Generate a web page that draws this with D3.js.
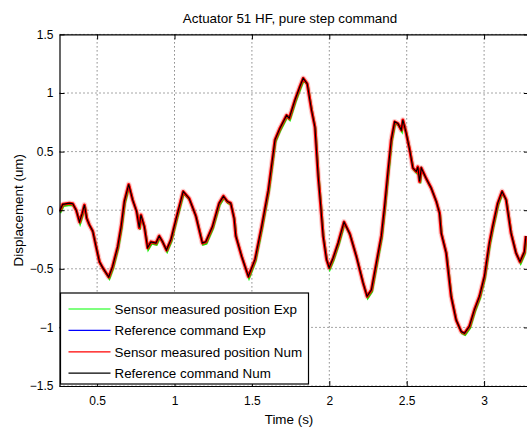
<!DOCTYPE html>
<html lang="en">
<head>
    <meta charset="UTF-8">
    <title>Actuator 51 HF, pure step command</title>
    <script src="https://cdn.jsdelivr.net/npm/d3@7"></script>
    <style>
        body{
            margin: 0;
            background: #fff;
        }
        svg text{
            font-family: "Liberation Sans", Arial, sans-serif;
            fill: #000;
        }
        .grid line{
            stroke: #000;
            stroke-opacity: .7;
            stroke-dasharray: 1,3;
        }
        .tick-label{
            font-size: 12px;
        }
        .label{
            font-size: 13.4px;
        }
    </style>
</head>
<body>
<svg id="svg_main"></svg>
<script>
    // time samples (s) and displacement (um)
    const time = [0.257, 0.278, 0.321, 0.343, 0.365, 0.386, 0.403, 0.418, 0.433, 0.450,
        0.472, 0.493, 0.515, 0.536, 0.575, 0.600, 0.633, 0.655, 0.676, 0.704,
        0.729, 0.755, 0.772, 0.783, 0.805, 0.826, 0.848, 0.880, 0.901, 0.923,
        0.948, 0.977, 1.009, 1.056, 1.095, 1.138, 1.180, 1.202, 1.245, 1.288,
        1.316, 1.341, 1.363, 1.385, 1.396, 1.434, 1.477, 1.520, 1.563, 1.606,
        1.649, 1.681, 1.724, 1.741, 1.778, 1.810, 1.831, 1.857, 1.885, 1.907,
        1.928, 1.943, 1.960, 1.982, 1.999, 2.024, 2.057, 2.095, 2.132, 2.175,
        2.218, 2.244, 2.272, 2.304, 2.336, 2.357, 2.379, 2.400, 2.422, 2.443,
        2.465, 2.475, 2.497, 2.519, 2.540, 2.562, 2.572, 2.583, 2.594, 2.626,
        2.658, 2.691, 2.712, 2.723, 2.755, 2.787, 2.819, 2.852, 2.873, 2.905,
        2.937, 2.970, 3.002, 3.034, 3.055, 3.088, 3.116, 3.142, 3.174, 3.206,
        3.232, 3.260, 3.270];
    const displacement = [-0.01, 0.05, 0.06, 0.055, 0.00, -0.10, -0.03, 0.045, -0.07, -0.125,
        -0.18, -0.31, -0.44, -0.49, -0.57, -0.48, -0.31, -0.14, 0.075, 0.22,
        0.09, -0.01, -0.15, -0.04, -0.14, -0.32, -0.27, -0.28, -0.22, -0.27,
        -0.34, -0.25, -0.08, 0.16, 0.10, -0.05, -0.28, -0.27, -0.14, 0.06,
        0.12, 0.075, 0.06, -0.07, -0.22, -0.395, -0.565, -0.42, -0.14, 0.17,
        0.60, 0.70, 0.81, 0.785, 0.94, 1.055, 1.126, 1.08, 0.855, 0.71,
        0.29, 0.06, -0.22, -0.42, -0.49, -0.41, -0.28, -0.10, -0.20, -0.395,
        -0.62, -0.735, -0.68, -0.45, -0.22, 0.03, 0.33, 0.60, 0.755, 0.74,
        0.685, 0.77, 0.655, 0.515, 0.36, 0.33, 0.37, 0.245, 0.36, 0.27,
        0.19, 0.075, -0.025, -0.195, -0.365, -0.735, -0.935, -1.035, -1.05, -0.99,
        -0.85, -0.735, -0.565, -0.28, -0.14, 0.06, 0.16, 0.09, -0.195, -0.365,
        -0.44, -0.355, -0.22];

    const seriesNames = ['Sensor measured position Exp', 'Reference command Exp',
        'Sensor measured position Num', 'Reference command Num'];
    const seriesColors = ['#00ff00', '#0000ff', '#ff0000', '#000000'];

    const xTicks = [0.5, 1, 1.5, 2, 2.5, 3];
    const yTicks = [-1.5, -1, -0.5, 0, 0.5, 1, 1.5];
    const xDomain = [0.257, 3.29];
    const yDomain = [-1.5, 1.5];

    const width = 527;
    const height = 430;
    const margin = {top: 34.4, right: -2, bottom: 44, left: 59.5};
    const innerW = width - margin.left - margin.right;
    const innerH = height - margin.top - margin.bottom;

    let svg = d3.select('#svg_main')
        .attr('width', width)
        .attr('height', height);

    let data = time.map((t, i) => ({t: t, v: displacement[i]}));

    let xScale = d3.scaleLinear().domain(xDomain).range([0, innerW]);
    let yScale = d3.scaleLinear().domain(yDomain).range([innerH, 0]);

    let figure = svg.append('g')
        .attr('transform', `translate(${margin.left},${margin.top})`);

    figure.append('clipPath').attr('id', 'clip')
        .append('rect').attr('width', innerW).attr('height', innerH);

    // dotted grid
    let grid = figure.append('g').attr('class', 'grid');
    grid.selectAll('.vx').data(xTicks).enter().append('line')
        .attr('x1', d => xScale(d)).attr('x2', d => xScale(d))
        .attr('y1', 0).attr('y2', innerH);
    grid.selectAll('.hy').data(yTicks).enter().append('line')
        .attr('y1', d => yScale(d)).attr('y2', d => yScale(d))
        .attr('x1', 0).attr('x2', innerW);

    // curves
    let line = d3.line().x(d => xScale(d.t)).y(d => yScale(d.v));
    let curves = figure.append('g').attr('clip-path', 'url(#clip)').attr('fill', 'none');

    curves.append('path').datum(data)
        .attr('d', line)
        .attr('stroke', seriesColors[0])
        .attr('stroke-width', 2)
        .attr('transform', 'translate(0.7,1.8)');
    curves.append('path').datum(data)
        .attr('d', line)
        .attr('stroke', seriesColors[1])
        .attr('stroke-width', 1);
    // red band with a light halo
    curves.append('path').datum(data)
        .attr('d', line)
        .attr('stroke', seriesColors[2])
        .attr('stroke-opacity', .2)
        .attr('stroke-width', 5.5)
        .attr('stroke-linejoin', 'round');
    curves.append('path').datum(data)
        .attr('d', line)
        .attr('stroke', seriesColors[2])
        .attr('stroke-width', 3)
        .attr('stroke-linejoin', 'round');
    curves.append('path').datum(data)
        .attr('d', line)
        .attr('stroke', seriesColors[3])
        .attr('stroke-width', 1.1);

    // axes box with inward ticks
    let xAxisB = d3.axisBottom(xScale).tickValues(xTicks).tickSizeInner(-5).tickSizeOuter(0).tickFormat(d3.format('~g'));
    let xAxisT = d3.axisTop(xScale).tickValues(xTicks).tickSizeInner(-5).tickSizeOuter(0).tickFormat('');
    let yAxisL = d3.axisLeft(yScale).tickValues(yTicks).tickSizeInner(-5).tickSizeOuter(0).tickFormat(d3.format('~g'));
    let yAxisR = d3.axisRight(yScale).tickValues(yTicks).tickSizeInner(-5).tickSizeOuter(0).tickFormat('');

    let gxb = figure.append('g').attr('transform', `translate(0,${innerH})`).call(xAxisB);
    figure.append('g').call(xAxisT);
    let gyl = figure.append('g').call(yAxisL);
    figure.append('g').attr('transform', `translate(${innerW},0)`).call(yAxisR);

    figure.selectAll('.domain').attr('stroke', '#000').attr('stroke-width', 1.2);
    figure.selectAll('.tick line').attr('stroke', '#000');
    gxb.selectAll('text').attr('class', 'tick-label').attr('y', 10).attr('dy', '0.71em');
    gyl.selectAll('text').attr('class', 'tick-label').attr('x', -6);

    // title and axis labels
    svg.append('text').attr('class', 'label')
        .attr('x', 290).attr('y', 23)
        .attr('text-anchor', 'middle')
        .text('Actuator 51 HF, pure step command');
    svg.append('text').attr('class', 'label')
        .attr('x', 289).attr('y', 424)
        .attr('text-anchor', 'middle')
        .text('Time (s)');
    svg.append('text').attr('class', 'label')
        .attr('transform', `translate(23,${margin.top + innerH / 2}) rotate(-90)`)
        .attr('text-anchor', 'middle')
        .text('Displacement (um)');

    // legend
    let legend = figure.append('g').attr('transform', `translate(1,${innerH - 93})`);
    legend.append('rect')
        .attr('width', 248).attr('height', 91)
        .attr('fill', '#fff').attr('stroke', '#000').attr('stroke-width', 1.2);
    let items = legend.selectAll('.item').data(seriesNames).enter().append('g')
        .attr('transform', (d, i) => `translate(0,${16 + i * 21.4})`);
    items.append('line')
        .attr('x1', 8).attr('x2', 50)
        .attr('stroke', (d, i) => seriesColors[i])
        .attr('stroke-width', 1.2);
    items.append('text').attr('class', 'label')
        .attr('x', 54).attr('dy', '0.36em')
        .text(d => d);
</script>
</body>
</html>
